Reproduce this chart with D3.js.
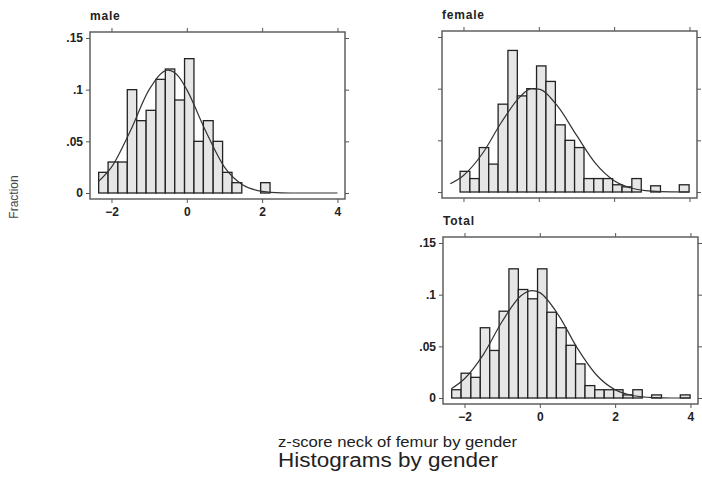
<!DOCTYPE html>
<html>
<head>
<meta charset="utf-8">
<script src="https://cdn.jsdelivr.net/npm/d3@7"></script>
<style>
  html, body { margin: 0; padding: 0; background: #fff; }
  svg { display: block; font-family: "Liberation Sans", Arial, sans-serif; }
</style>
</head>
<body>
<div id="chart"></div>
<script>
// left edges of the 25 bins, last value is the right edge of the last bin
const binEdges = [-2.34, -2.09, -1.83, -1.58, -1.33, -1.08, -0.82, -0.57, -0.32, -0.06,
                  0.19, 0.44, 0.70, 0.95, 1.20, 1.46, 1.71, 1.96, 2.21, 2.47,
                  2.72, 2.97, 3.23, 3.48, 3.73, 3.99];

const maleFrac   = [0.02, 0.03, 0.03, 0.10, 0.07, 0.08, 0.11, 0.12, 0.09, 0.13,
                    0.05, 0.07, 0.05, 0.02, 0.01, 0, 0, 0.01, 0, 0,
                    0, 0, 0, 0, 0];
const femaleFrac = [0, 0.02, 0.013, 0.043, 0.027, 0.085, 0.137, 0.093, 0.10, 0.122,
                    0.107, 0.065, 0.05, 0.043, 0.013, 0.013, 0.013, 0.007, 0.005, 0.013,
                    0, 0.006, 0, 0, 0.007];
const totalFrac  = [0.008, 0.024, 0.02, 0.068, 0.046, 0.084, 0.125, 0.105, 0.096, 0.125,
                    0.083, 0.068, 0.051, 0.033, 0.012, 0.008, 0.008, 0.008, 0.003, 0.008,
                    0, 0.003, 0, 0, 0.003];

// normal curve overlays
const curveX      = [-2.35, -2, -1.5, -1, -0.5, -0.2, 0, 0.5, 1, 1.5, 2, 2.5, 3, 3.5, 4];
const maleCurve   = [0.011, 0.025, 0.060, 0.100, 0.119, 0.112, 0.100, 0.060, 0.025, 0.0075, 0.0016, 0.0002, 0, 0, 0];
const femaleCurve = [0.008, 0.016, 0.037, 0.067, 0.092, 0.100, 0.0995, 0.083, 0.055, 0.028, 0.011, 0.0034, 0.0008, 0.0001, 0];
const totalCurve  = [0.0089, 0.0186, 0.042, 0.074, 0.099, 0.104, 0.102, 0.080, 0.048, 0.0225, 0.0079, 0.0022, 0.0004, 0, 0];

const xTicks = [-2, 0, 2, 4];
const yTicks = [0, 0.05, 0.1, 0.15];
const yTickLabels = ['0', '.05', '.1', '.15'];

const panels = [
  { title: 'male',   frac: maleFrac,   curve: maleCurve,   x: 90,  y: 32,  xLabels: true,  yLabels: true },
  { title: 'female', frac: femaleFrac, curve: femaleCurve, x: 442, y: 31,  xLabels: false, yLabels: false },
  { title: 'Total',  frac: totalFrac,  curve: totalCurve,  x: 443, y: 237, xLabels: true,  yLabels: true }
];

const width = 702, height = 477;
const pw = 255, ph = 167;
const ink = '#333';

const svg = d3.select('#chart').append('svg')
    .attr('width', width)
    .attr('height', height);

const x = d3.scaleLinear().domain([-2.57, 4.2]).range([0, pw]);
const y = d3.scaleLinear().domain([-0.0058, 0.1558]).range([ph, 0]);

panels.forEach(p => {
  const g = svg.append('g').attr('transform', `translate(${p.x},${p.y})`);

  const bars = p.frac.map((v, i) => ({ lo: binEdges[i], hi: binEdges[i + 1], v }))
      .filter(d => d.v > 0);

  g.selectAll('rect.bar').data(bars).join('rect')
      .attr('class', 'bar')
      .attr('x', d => x(d.lo))
      .attr('width', d => x(d.hi) - x(d.lo))
      .attr('y', d => y(d.v))
      .attr('height', d => y(0) - y(d.v))
      .attr('fill', '#e6e6e6')
      .attr('stroke', '#222')
      .attr('stroke-width', 1.3);

  const line = d3.line()
      .x((d, i) => x(curveX[i]))
      .y(d => y(d))
      .curve(d3.curveMonotoneX);

  g.append('path')
      .attr('d', line(p.curve))
      .attr('fill', 'none')
      .attr('stroke', ink)
      .attr('stroke-width', 1.2);

  // frame
  g.append('rect')
      .attr('width', pw)
      .attr('height', ph)
      .attr('fill', 'none')
      .attr('stroke', '#555')
      .attr('stroke-width', 1.4);

  const axB = d3.axisBottom(x).tickValues(xTicks).tickSize(4).tickPadding(4)
      .tickFormat(p.xLabels ? d3.format('d') : () => '');
  const axT = d3.axisTop(x).tickValues(xTicks).tickSize(4).tickFormat(() => '');
  const axL = d3.axisLeft(y).tickValues(yTicks).tickSize(4).tickPadding(3)
      .tickFormat((d, i) => p.yLabels ? yTickLabels[i] : '');
  const axR = d3.axisRight(y).tickValues(yTicks).tickSize(4).tickFormat(() => '');

  [[axB, `translate(0,${ph})`], [axT, 'translate(0,0)'],
   [axL, 'translate(0,0)'], [axR, `translate(${pw},0)`]].forEach(([ax, tr]) => {
    const a = g.append('g').attr('transform', tr).call(ax);
    a.select('.domain').remove();
    a.selectAll('line').attr('stroke', '#555');
    a.selectAll('text')
        .attr('fill', '#222')
        .style('font-family', '"Liberation Sans", Arial, sans-serif')
        .style('font-size', '12px')
        .style('font-weight', 'bold');
  });

  g.append('text')
      .attr('x', 0)
      .attr('y', -12)
      .attr('fill', '#222')
      .style('font-size', '12px')
      .style('font-weight', 'bold')
      .style('letter-spacing', '0.8px')
      .text(p.title);
});

svg.append('text')
    .attr('transform', 'translate(18,197) rotate(-90)')
    .attr('text-anchor', 'middle')
    .attr('fill', '#444')
    .style('font-size', '12px')
    .text('Fraction');

svg.append('text')
    .attr('x', 278)
    .attr('y', 447)
    .attr('fill', '#222')
    .attr('textLength', 239)
    .attr('lengthAdjust', 'spacingAndGlyphs')
    .style('font-size', '15px')
    .text('z-score neck of femur by gender');

svg.append('text')
    .attr('x', 278)
    .attr('y', 467)
    .attr('fill', '#222')
    .attr('textLength', 220)
    .attr('lengthAdjust', 'spacingAndGlyphs')
    .style('font-size', '20px')
    .text('Histograms by gender');
</script>
</body>
</html>
